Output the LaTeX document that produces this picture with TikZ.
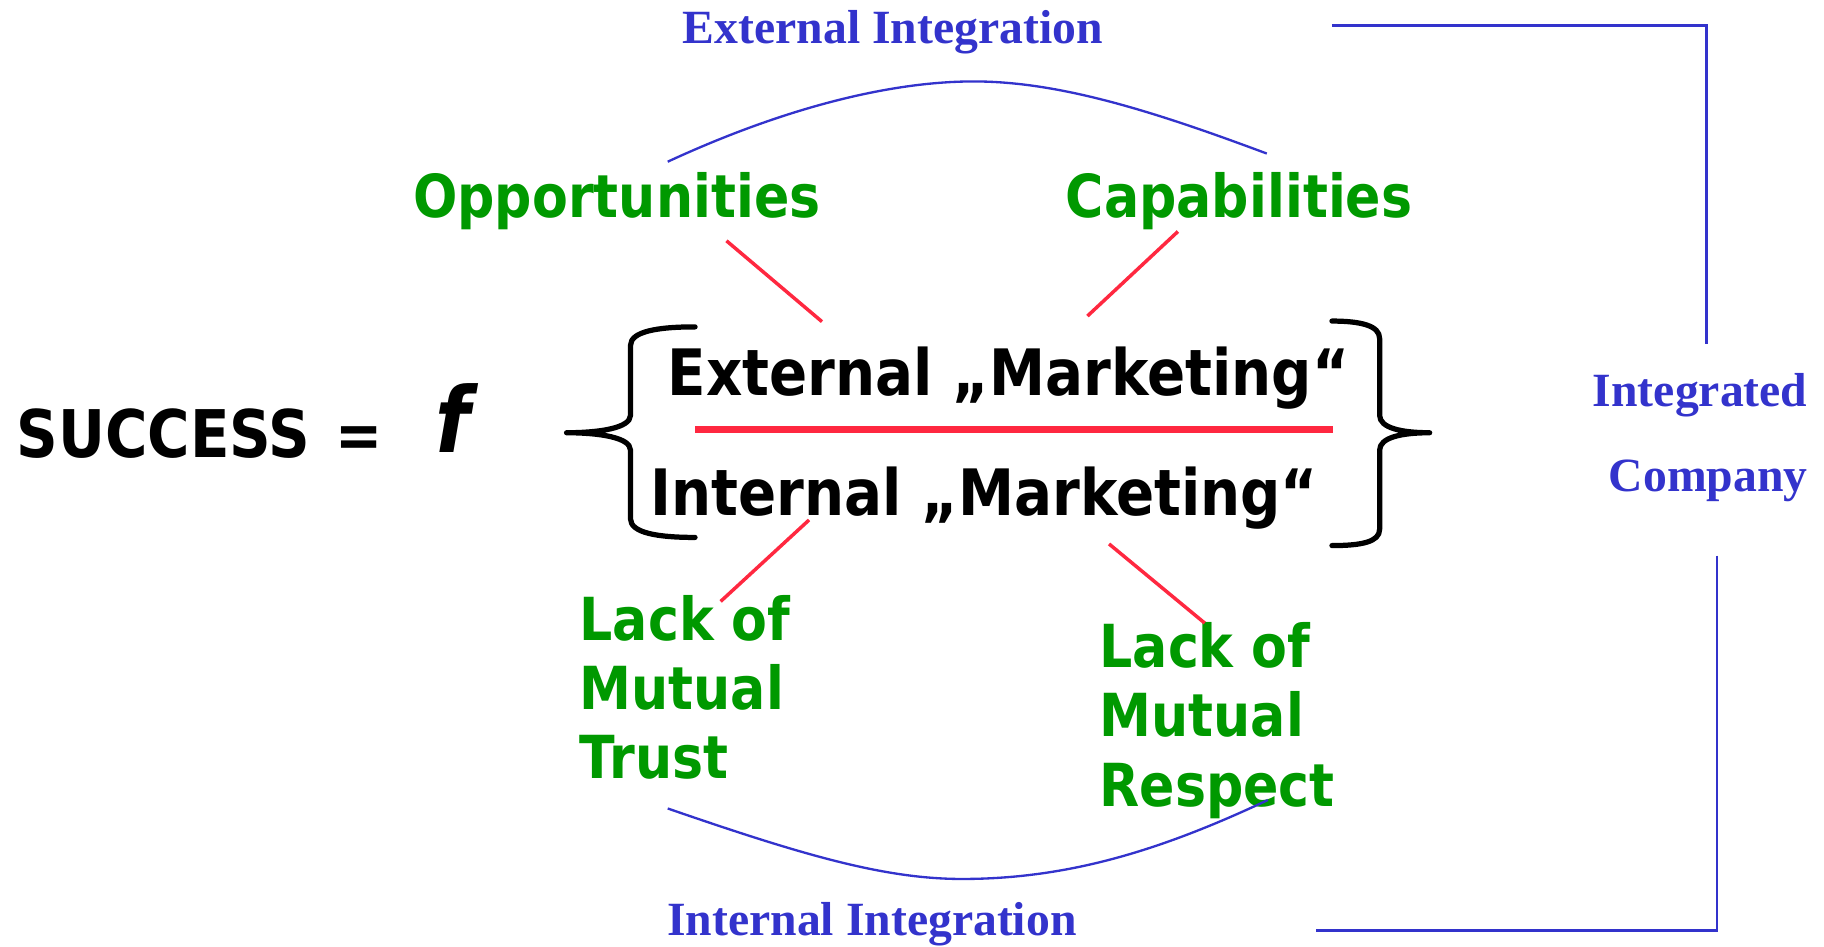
\documentclass[tikz,border=0pt]{standalone}
\usepackage{fontspec}
\setmainfont{Liberation Serif}
\newfontfamily\verdana[FakeStretch=0.88]{DejaVu Sans}
\definecolor{mkgreen}{RGB}{0,153,0}
\definecolor{mkblue}{RGB}{51,51,204}
\definecolor{mkred}{RGB}{255,40,64}

\tikzset{
	green text/.style={text=mkgreen, align=left, anchor=base west, font=\verdana\bfseries\fontsize{51}{59.5}\selectfont},
	black text/.style={anchor=base west, font=\verdana\bfseries\fontsize{55}{60}\selectfont},
	blue text/.style={text=mkblue, font=\bfseries\fontsize{41}{48}\selectfont},
	red line/.style={draw=mkred, line width=3pt},
	blue line/.style={draw=mkblue, line width=2pt},
	brace line/.style={draw=black, line width=4.5pt, line cap=round, line join=round}
}

\begin{document}
\begin{tikzpicture}[x=1pt,y=1pt]
	\tikzstyle{every node}+=[inner sep=0pt]
	\useasboundingbox (0,0) rectangle (1568,-814);
	% left side of the formula
	\node [black text, font=\verdana\bfseries\fontsize{56.5}{60}\selectfont] (success) at (14,-393) {SUCCESS};
	\node [black text, anchor=base] (equals) at (309,-393) {=};
	\node [black text, anchor=base, font=\verdana\bfseries\itshape\fontsize{78}{80}\selectfont] (func) at (389,-389) {f};
	% the two kinds of marketing
	\node [black text] (extmkt) at (574,-340) {External „Marketing“};
	\node [black text] (intmkt) at (559,-443) {Internal „Marketing“};
	\coordinate (bar left) at (597.5,-368.8);
	\coordinate (bar right) at (1146,-368.8);
	\draw [red line, line width=6pt] (bar left) -- (bar right);
	% braces
	\draw [brace line] (597.5,-281) .. controls (565,-281) and (542,-285) .. (542,-297) -- (542,-357)
		.. controls (542,-368) and (515,-372) .. (487,-372)
		.. controls (515,-372) and (542,-376) .. (542,-387) -- (542,-446)
		.. controls (542,-458) and (565,-462) .. (597.5,-462);
	\draw [brace line] (1145,-276) .. controls (1170,-276) and (1186,-280) .. (1186,-291) -- (1186,-357)
		.. controls (1186,-368) and (1205,-372) .. (1229,-372)
		.. controls (1205,-372) and (1186,-376) .. (1186,-387) -- (1186,-455)
		.. controls (1186,-466) and (1170,-469) .. (1145,-469);
	% green labels
	\node [green text] (opp) at (355,-187) {Opportunities};
	\node [green text] (cap) at (916,-187) {Capabilities};
	\node [green text] (trust) at (498,-669.5) {Lack of\\Mutual\\Trust};
	\node [green text] (respect) at (945,-693) {Lack of\\Mutual\\Respect};
	% red links
	\coordinate (opp a) at (624.5,-207);
	\coordinate (opp b) at (706.6,-276.5);
	\coordinate (cap a) at (1012.6,-199);
	\coordinate (cap b) at (934.8,-271.7);
	\coordinate (trust a) at (695.5,-447);
	\coordinate (trust b) at (619.5,-517);
	\coordinate (resp a) at (953.4,-467.6);
	\coordinate (resp b) at (1035.6,-535.6);
	\draw [red line] (opp a) -- (opp b);
	\draw [red line] (cap a) -- (cap b);
	\draw [red line] (trust a) -- (trust b);
	\draw [red line] (resp a) -- (resp b);
	% integration arcs
	\node [blue text, anchor=base] (extint) at (767.5,-37.2) {External Integration};
	\node [blue text, anchor=base] (intint) at (749.5,-804.5) {Internal Integration};
	\coordinate (top a) at (574,-139);
	\coordinate (top m) at (837,-70);
	\coordinate (top b) at (1089,-132);
	\draw [blue line] (top a) .. controls (680,-90) and (770,-70) .. (top m)
		.. controls (910,-70) and (990,-95) .. (top b);
	\coordinate (bot a) at (574,-695);
	\coordinate (bot m) at (827,-755.6);
	\coordinate (bot b) at (1090,-687.7);
	\draw [blue line] (bot a) .. controls (690,-735) and (760,-755.6) .. (bot m)
		.. controls (920,-755.6) and (1000,-730) .. (bot b);
	% integrated company
	\node [blue text, anchor=base east] (integ) at (1554,-349.6) {Integrated};
	\node [blue text, anchor=base east] (company) at (1554,-422.7) {Company};
	\coordinate (frame a) at (1145,-22);
	\coordinate (frame b) at (1467,-22);
	\coordinate (frame c) at (1467,-296);
	\coordinate (frame d) at (1476,-477.6);
	\coordinate (frame e) at (1476,-800);
	\coordinate (frame f) at (1131,-800);
	\draw [blue line] (frame a) -- (frame b) -- (frame c);
	\draw [blue line] (frame d) -- (frame e) -- (frame f);
\end{tikzpicture}
\end{document}
